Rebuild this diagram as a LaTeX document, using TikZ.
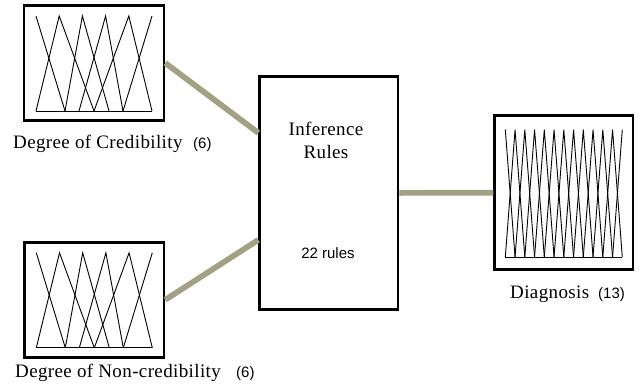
\documentclass[tikz,border=0pt]{standalone}
\usepackage{fontspec}
\setmainfont{Liberation Serif}
\newfontfamily\labelsans{Liberation Sans}
\usetikzlibrary{calc}
\definecolor{linkolive}{RGB}{163,161,131}
\tikzset{
  mfbox/.style={draw=black, line width=2.6pt, fill=white, inner sep=0pt, rectangle},
  link/.style={draw=linkolive, line width=5.7pt},
  mfline/.style={line width=0.9pt, line join=miter},
  caption/.style={inner sep=0pt, font=\fontsize{19}{23}\selectfont\addfontfeature{LetterSpace=2}},
  count/.style={inner sep=0pt, font=\labelsans\fontsize{15}{18}\selectfont},
}
% six triangular membership functions, drawn around the box centre
\newcommand{\sixsets}{%
  \draw[mfline] (-58,-47) -- (-29,48);
  \draw[mfline] (-58,48) -- (-34.8,-47) -- (0,48);
  \draw[mfline] (-29,48) -- (-11.6,-47) -- (15,48);
  \draw[mfline] (-15,48) -- (11.6,-47) -- (29,48);
  \draw[mfline] (0,48) -- (34.8,-47) -- (58,48);
  \draw[mfline] (29,48) -- (58,-47);
  \draw[mfline] (-58,48) -- (58,48);
}
% thirteen narrow triangular membership functions
\newcommand{\thirteensets}{%
  \draw[mfline] (-58.5,-63) -- (-48.75,64.3);
  \foreach \i in {1,...,11}{
    \draw[mfline] ({-58.5+9.75*(\i-1)},64.3) -- ({-58.5+9.75*\i},-63) -- ({-58.5+9.75*(\i+1)},64.3);
  }
  \draw[mfline] (48.75,64.3) -- (58.5,-63);
  \draw[mfline] (-58.5,64.3) -- (58.5,64.3);
}
\begin{document}
\begin{tikzpicture}[x=1pt,y=-1pt]
\useasboundingbox (0,0) rectangle (644,391);
\fill[white] (0,0) rectangle (644,391);

% boxes
\node[mfbox, minimum width=140pt, minimum height=115.4pt] (cred) at (94,63) {};
\node[mfbox, minimum width=139.3pt, minimum height=115pt] (noncred) at (94.3,299.8) {};
\node[mfbox, minimum width=138.4pt, minimum height=233.4pt] (rules) at (328.8,192.9) {};
\node[mfbox, minimum width=138.3pt, minimum height=154pt] (diag) at (563.8,192.7) {};

% membership function plots
\begin{scope}[shift={(cred.center)}] \sixsets \end{scope}
\begin{scope}[shift={(noncred.center)}] \sixsets \end{scope}
\begin{scope}[shift={(diag.center)}] \thirteensets \end{scope}

% connectors
\draw[link] (cred.east) -- ($(rules.west)+(0,-60)$);
\draw[link] (noncred.east) -- ($(rules.west)+(0,47)$);
\draw[link] (rules.east) -- (diag.west);

% texts
\node[caption, anchor=base west] (credtext) at (13,148) {Degree of Credibility};
\node[count, anchor=base west] (credcount) at (193,148) {(6)};
\node[caption, anchor=base west] (noncredtext) at (15,377) {Degree of Non-credibility};
\node[count, anchor=base west] (noncredcount) at (236,377) {(6)};
\node[caption, anchor=base west] (diagtext) at (510,298) {Diagnosis};
\node[count, anchor=base west] (diagcount) at (598,298) {(13)};
\node[caption, anchor=base] (inftext) at (326,135) {Inference};
\node[caption, anchor=base] (rulestext) at (326,158) {Rules};
\node[count, anchor=base] (rulecount) at (328,258) {22 rules};
\end{tikzpicture}
\end{document}
